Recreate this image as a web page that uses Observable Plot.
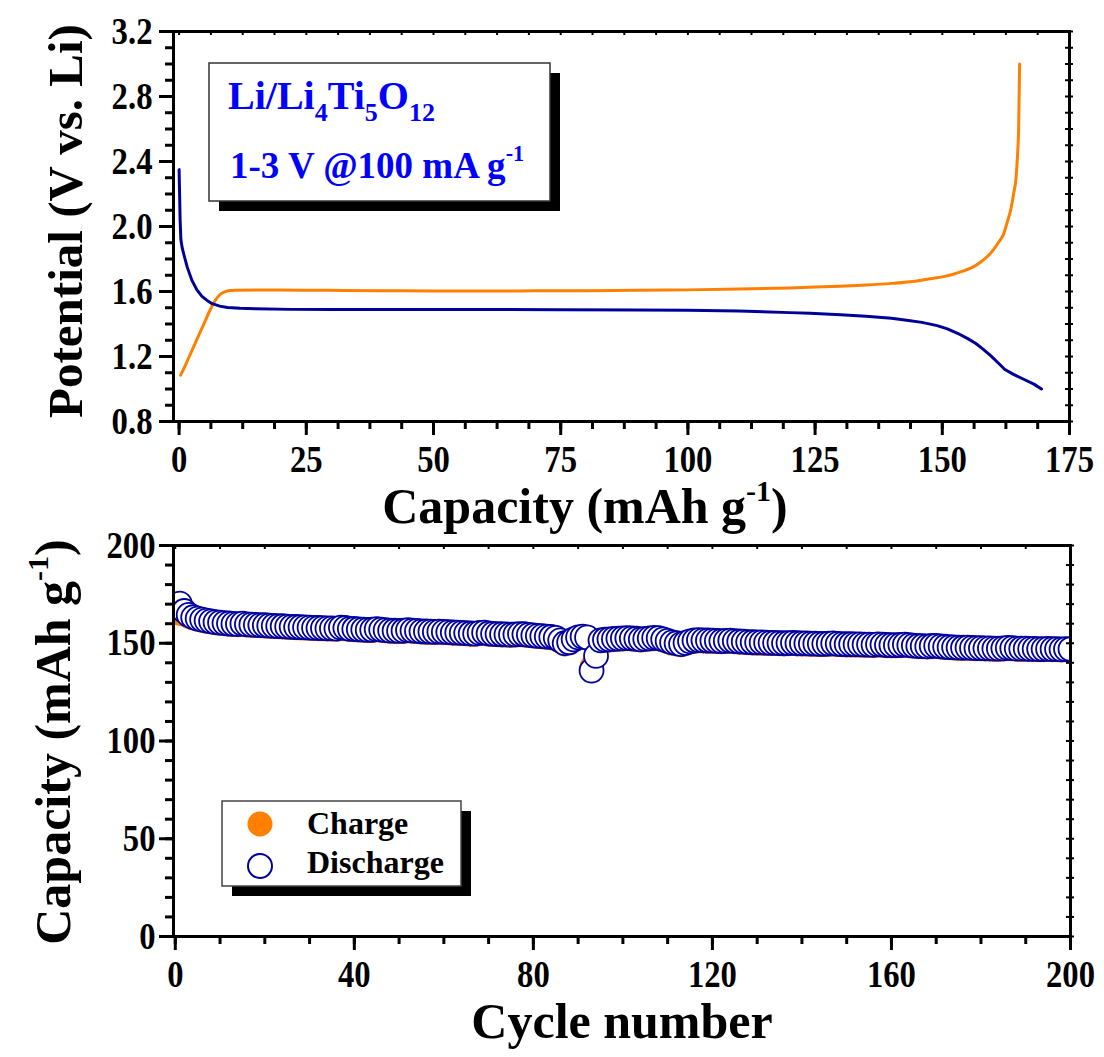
<!DOCTYPE html>
<html><head><meta charset="utf-8">
<script src="https://cdn.jsdelivr.net/npm/d3@7"></script>
<script src="https://cdn.jsdelivr.net/npm/@observablehq/plot@0.6"></script>
<style>
html,body{margin:0;padding:0;background:#fff;overflow:hidden;}
#wrap{width:1104px;height:1057px;}
#wrap svg{display:block;}
</style></head><body><div id="wrap"></div>
<script>
const FONT = "'Liberation Serif','Times New Roman',serif";

// ---- Top panel: charge / discharge profile ----
const chargeCap = [0.3, 1, 2, 3, 4, 5, 6, 7, 8, 9, 10, 11, 15, 20, 30, 40, 50, 60, 70, 80, 90, 100, 110, 120, 125, 130, 135, 140, 145, 148, 150, 152, 154, 156, 157.5, 159, 160, 161, 162, 162.8, 163.5, 164, 164.5, 164.8, 165, 165.1, 165.2];
const chargeV   = [1.085, 1.13, 1.2, 1.27, 1.34, 1.41, 1.48, 1.54, 1.58, 1.598, 1.606, 1.608, 1.61, 1.61, 1.607, 1.605, 1.603, 1.603, 1.604, 1.605, 1.607, 1.61, 1.615, 1.622, 1.627, 1.633, 1.64, 1.65, 1.665, 1.68, 1.69, 1.705, 1.725, 1.75, 1.78, 1.82, 1.855, 1.9, 1.95, 2.03, 2.11, 2.2, 2.3, 2.45, 2.6, 2.8, 3.0];
const dischargeCap = [0, 0.1, 0.2, 0.35, 0.6, 1, 1.6, 2.5, 3.5, 4.5, 5.5, 6.5, 8, 9.5, 12, 15, 22, 30, 50, 75, 90, 100, 110, 120, 124, 130, 135, 140, 143, 146, 149, 151, 153, 155, 156.6, 158, 159.5, 161, 162.3, 164, 166, 168, 169.5];
const dischargeV   = [2.35, 2.2, 2.04, 1.92, 1.87, 1.82, 1.75, 1.67, 1.61, 1.57, 1.545, 1.525, 1.51, 1.502, 1.497, 1.494, 1.49, 1.49, 1.49, 1.488, 1.486, 1.485, 1.48, 1.47, 1.466, 1.457, 1.448, 1.435, 1.423, 1.41, 1.39, 1.37, 1.343, 1.31, 1.28, 1.245, 1.205, 1.16, 1.12, 1.09, 1.06, 1.03, 1.0];
const topXTicks = [0, 25, 50, 75, 100, 125, 150, 175];
const topYTicks = [0.8, 1.2, 1.6, 2.0, 2.4, 2.8, 3.2];

// ---- Bottom panel: cycling ----
const cycles = d3.range(1, 201);
const dischargeCycle = [
170.3,166.5,164.5,163.3,162.6,162.1,161.6,161.2,160.8,160.5,
160.3,160.1,159.9,159.8,160.0,159.7,159.5,159.4,159.3,159.2,
159.0,158.9,158.8,158.7,158.5,158.4,158.3,158.2,158.1,158.0,
157.9,157.8,157.7,157.6,157.6,157.5,158.0,157.8,157.4,157.3,
157.1,157.0,156.8,156.9,157.2,157.0,156.7,156.5,156.4,156.3,
156.4,156.7,156.5,156.3,156.1,156.0,155.9,155.8,155.9,155.8,
155.7,155.5,155.4,155.3,155.2,155.0,154.9,155.3,155.4,155.0,
154.8,154.7,154.6,154.5,154.4,154.5,154.7,154.6,154.3,154.0,
153.8,153.6,153.4,153.2,152.8,151.5,150.0,150.5,152.0,153.0,
153.4,153.0,136.0,143.5,151.5,151.8,152.0,152.2,152.4,152.5,
152.6,152.5,152.3,152.0,152.2,152.5,152.7,152.6,152.0,151.2,
150.4,150.0,149.6,150.2,151.0,151.4,151.6,151.5,151.4,151.3,
151.2,151.1,151.2,151.3,151.1,150.9,150.8,150.6,150.5,150.4,
150.4,150.3,150.2,150.2,150.1,150.0,150.1,150.2,150.0,149.9,
149.9,149.8,149.8,149.7,149.7,149.8,149.9,149.7,149.6,149.5,
149.5,149.4,149.4,149.3,149.3,149.2,149.4,149.3,149.1,149.0,
149.0,149.1,149.3,149.0,148.8,148.6,148.5,148.4,148.6,148.7,
148.4,148.2,148.0,147.9,147.8,147.7,147.8,147.6,147.5,147.5,
147.4,147.4,147.3,147.3,147.4,147.6,147.5,147.3,147.2,147.2,
147.1,147.1,147.0,147.0,147.1,147.0,147.0,146.9,147.0,147.0];
const chargeCycle = [
165.0,165.0,163.6,162.7,162.0,161.5,161.0,160.6,160.2,159.9,
159.7,159.5,159.3,159.2,159.3,159.1,158.9,158.8,158.7,158.6,
158.4,158.3,158.2,158.1,157.9,157.8,157.7,157.6,157.5,157.4,
157.3,157.2,157.1,157.0,157.0,156.9,157.4,157.2,156.8,156.7,
156.5,156.4,156.2,156.3,156.6,156.4,156.1,155.9,155.8,155.7,
155.8,156.1,155.9,155.7,155.5,155.4,155.3,155.2,155.3,155.2,
155.1,154.9,154.8,154.7,154.6,154.4,154.3,154.7,154.8,154.4,
154.2,154.1,154.0,153.9,153.8,153.9,154.1,154.0,153.7,153.4,
153.2,153.0,152.8,152.6,152.2,150.9,149.4,149.9,151.4,152.4,
152.8,152.4,138.0,144.5,150.9,151.2,151.4,151.6,151.8,151.9,
152.0,151.9,151.7,151.4,151.6,151.9,152.1,152.0,151.4,150.6,
149.8,149.4,149.0,149.6,150.4,150.8,151.0,150.9,150.8,150.7,
150.6,150.5,150.6,150.7,150.5,150.3,150.2,150.0,149.9,149.8,
149.8,149.7,149.6,149.6,149.5,149.4,149.5,149.6,149.4,149.3,
149.3,149.2,149.2,149.1,149.1,149.2,149.3,149.1,149.0,148.9,
148.9,148.8,148.8,148.7,148.7,148.6,148.8,148.7,148.5,148.4,
148.4,148.5,148.7,148.4,148.2,148.0,147.9,147.8,148.0,148.1,
147.8,147.6,147.4,147.3,147.2,147.1,147.2,147.0,146.9,146.9,
146.8,146.8,146.7,146.7,146.8,147.0,146.9,146.7,146.6,146.6,
146.5,146.5,146.4,146.4,146.5,146.4,146.4,146.3,146.4,146.4];
const botXTicks = [0, 40, 80, 120, 160, 200];
const botYTicks = [0, 50, 100, 150, 200];

const ORANGE = "#FF8000", NAVY = "#000099", CIRC = "#0000A0", BLUE = "#0000FF";
const W = 1104;

function minorTicks(lo, hi, step) {
  const out = []; for (let v = lo; v <= hi + 1e-9; v += step) out.push(+v.toFixed(4)); return out;
}

// rich text helper: parts = [[text, "n"|"sub"|"sup"], ...]
function richText(sel, {x, y, size, anchor = "start", rotate = 0, fill = "#000", parts, weight = "bold", subScale = 0.62}) {
  const t = sel.append("text")
    .attr("transform", `translate(${x},${y})` + (rotate ? ` rotate(${rotate})` : ""))
    .attr("text-anchor", anchor)
    .attr("font-family", FONT).attr("font-weight", weight)
    .attr("font-size", size).attr("fill", fill);
  let shift = 0;
  parts.forEach(([s, kind]) => {
    const sp = t.append("tspan").text(s);
    let target = 0, fs = size;
    if (kind === "sub") { target = size * 0.3; fs = size * subScale; }
    if (kind === "sup") { target = -size * 0.45; fs = size * 0.6; }
    sp.attr("font-size", fs).attr("dy", target - shift);
    shift = target;
  });
  return t;
}

// narrow tick labels a little, like the condensed face of the original
function condense(svg, k) {
  d3.select(svg).selectAll("g[aria-label$='tick label'] text").each(function () {
    const w = this.getComputedTextLength();
    this.setAttribute("textLength", (w * k).toFixed(1));
    this.setAttribute("lengthAdjust", "spacingAndGlyphs");
  });
}

const wrap = d3.select("#wrap");

// ===== TOP PANEL =====
{
  const H = 530, mt = 31, mb = 109, ml = 173, mr = 35;
  const fw = W - ml - mr, fh = H - mt - mb;
  const xMinor = minorTicks(0, 175, 6.25);
  const yMinor = minorTicks(0.8, 3.2, 0.1);
  const chargeData = chargeCap.map((c, i) => ({c, v: chargeV[i]}));
  const dischargeData = dischargeCap.map((c, i) => ({c, v: dischargeV[i]}));
  const svg = Plot.plot({
    width: W, height: H, marginTop: mt, marginBottom: mb, marginLeft: ml, marginRight: mr,
    style: {fontFamily: FONT, fontSize: "38px", fontWeight: "bold", color: "#000", background: "#fff", overflow: "visible"},
    x: {domain: [-1.1, 175], axis: null},
    y: {domain: [0.8, 3.2], axis: null},
    marks: [
      Plot.line(chargeData, {x: "c", y: "v", stroke: ORANGE, strokeWidth: 3, curve: "monotone-x"}),
      Plot.line(dischargeData, {x: "c", y: "v", stroke: NAVY, strokeWidth: 3, curve: "linear"}),
      Plot.frame({stroke: "#000", strokeWidth: 3}),
      Plot.tickX(xMinor, {x: d => d, insetTop: fh, insetBottom: -8, strokeWidth: 3}),
      Plot.tickX(topXTicks, {x: d => d, insetTop: fh, insetBottom: -14, strokeWidth: 3}),
      Plot.tickX(xMinor, {x: d => d, insetBottom: fh - 4, strokeWidth: 2}),
      Plot.tickY(yMinor, {y: d => d, insetLeft: -8, insetRight: fw, strokeWidth: 3}),
      Plot.tickY(topYTicks, {y: d => d, insetLeft: -14, insetRight: fw, strokeWidth: 3}),
      Plot.tickY(yMinor, {y: d => d, insetLeft: fw - 4, insetRight: -4, strokeWidth: 2}),
      Plot.axisX(topXTicks, {tickSize: 0, tickPadding: 24, label: null, fontSize: 38, fontWeight: "bold"}),
      Plot.axisY(topYTicks, {tickSize: 0, tickPadding: 21, label: null, tickFormat: d => d.toFixed(1), fontSize: 38, fontWeight: "bold"})
    ]
  });
  wrap.node().appendChild(svg);
  condense(svg, 0.86);
  const s = d3.select(svg);
  // axis titles
  richText(s, {x: 585, y: 523, size: 50, anchor: "middle",
    parts: [["Capacity (mAh g", "n"], ["-1", "sup"], [")", "n"]]});
  richText(s, {x: 82, y: 221, size: 49, anchor: "middle", rotate: -90,
    parts: [["Potential (V vs. Li)", "n"]]});
  // annotation box
  const g = s.append("g");
  g.append("rect").attr("x", 219).attr("y", 73).attr("width", 341).attr("height", 138).attr("fill", "#000");
  g.append("rect").attr("x", 209).attr("y", 63).attr("width", 341).attr("height", 138)
    .attr("fill", "#fff").attr("stroke", "#333").attr("stroke-width", 1.5);
  richText(g, {x: 228, y: 109, size: 40, fill: BLUE, subScale: 0.65,
    parts: [["Li/Li", "n"], ["4", "sub"], ["Ti", "n"], ["5", "sub"], ["O", "n"], ["12", "sub"]]});
  richText(g, {x: 230, y: 178, size: 37, fill: BLUE,
    parts: [["1-3 V @100 mA g", "n"], ["-1", "sup"]]});
}

// ===== BOTTOM PANEL =====
{
  const H = 527, mt = 15, mb = 121, ml = 173, mr = 34;
  const fw = W - ml - mr, fh = H - mt - mb;
  const xMinor = minorTicks(0, 200, 10);
  const yMinor = minorTicks(0, 200, 10);
  const data = cycles.map((n, i) => ({n, ch: chargeCycle[i], dis: dischargeCycle[i]}));
  const svg = Plot.plot({
    width: W, height: H, marginTop: mt, marginBottom: mb, marginLeft: ml, marginRight: mr,
    style: {fontFamily: FONT, fontSize: "38px", fontWeight: "bold", color: "#000", background: "#fff", overflow: "visible"},
    x: {domain: [-0.4, 200], axis: null},
    y: {domain: [0, 200], axis: null},
    marks: [
      Plot.dot(data, {x: "n", y: "ch", r: 12, fill: ORANGE, clip: "frame"}),
      Plot.dot(data, {x: "n", y: "dis", r: 12, fill: "#fff", stroke: CIRC, strokeWidth: 1.8, clip: "frame"}),
      Plot.frame({stroke: "#000", strokeWidth: 3}),
      Plot.tickX(xMinor, {x: d => d, insetTop: fh, insetBottom: -8, strokeWidth: 3}),
      Plot.tickX(botXTicks, {x: d => d, insetTop: fh, insetBottom: -14, strokeWidth: 3}),
      Plot.tickX(xMinor, {x: d => d, insetBottom: fh - 4, strokeWidth: 2}),
      Plot.tickY(yMinor, {y: d => d, insetLeft: -8, insetRight: fw, strokeWidth: 3}),
      Plot.tickY(botYTicks, {y: d => d, insetLeft: -14, insetRight: fw, strokeWidth: 3}),
      Plot.tickY(yMinor, {y: d => d, insetLeft: fw - 4, insetRight: -4, strokeWidth: 2}),
      Plot.axisX(botXTicks, {tickSize: 0, tickPadding: 24, label: null, fontSize: 38, fontWeight: "bold"}),
      Plot.axisY(botYTicks, {tickSize: 0, tickPadding: 18, label: null, fontSize: 38, fontWeight: "bold"})
    ]
  });
  wrap.node().appendChild(svg);
  condense(svg, 0.86);
  const s = d3.select(svg);
  richText(s, {x: 622, y: 508, size: 50, anchor: "middle", parts: [["Cycle number", "n"]]});
  richText(s, {x: 70, y: 212, size: 50, anchor: "middle", rotate: -90,
    parts: [["Capacity (mAh g", "n"], ["-1", "sup"], [")", "n"]]});
  // legend
  const g = s.append("g");
  g.append("rect").attr("x", 232).attr("y", 281).attr("width", 239).attr("height", 85).attr("fill", "#000");
  g.append("rect").attr("x", 222).attr("y", 271).attr("width", 239).attr("height", 85)
    .attr("fill", "#fff").attr("stroke", "#444").attr("stroke-width", 1.5);
  g.append("circle").attr("cx", 260).attr("cy", 294).attr("r", 12.5).attr("fill", ORANGE);
  g.append("circle").attr("cx", 260).attr("cy", 336).attr("r", 12).attr("fill", "#fff").attr("stroke", CIRC).attr("stroke-width", 2);
  richText(g, {x: 307, y: 304, size: 32, parts: [["Charge", "n"]]});
  richText(g, {x: 307, y: 343, size: 32, parts: [["Discharge", "n"]]});
}
</script>
</body></html>
